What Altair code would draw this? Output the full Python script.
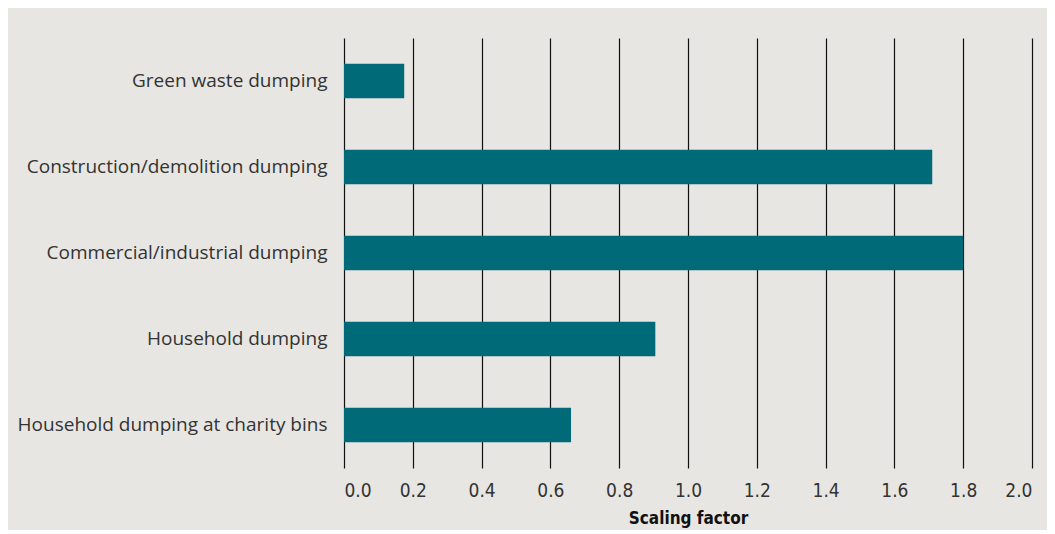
import altair as alt
import pandas as pd

categories = [
    "Green waste dumping",
    "Construction/demolition dumping",
    "Commercial/industrial dumping",
    "Household dumping",
    "Household dumping at charity bins",
]
values = [0.175, 1.71, 1.80, 0.905, 0.66]
x_ticks = [0.0, 0.2, 0.4, 0.6, 0.8, 1.0, 1.2, 1.4, 1.6, 1.8, 2.0]

df = pd.DataFrame({"category": categories, "value": values})

bg = "#e8e6e2"

chart = (
    alt.Chart(df)
    .mark_bar(color="#006a78")
    .encode(
        x=alt.X(
            "value:Q",
            scale=alt.Scale(domain=[0, 2.0], nice=False),
            axis=alt.Axis(
                values=x_ticks,
                format=".1f",
                title="Scaling factor",
                grid=True,
                gridColor="#111111",
                gridWidth=1.2,
                gridOpacity=1,
                domain=False,
                ticks=False,
                labelFont="DejaVu Sans Condensed",
                labelFontSize=19,
                labelColor="#333333",
                labelPadding=13,
                titleFont="DejaVu Sans Condensed",
                titleFontWeight="bold",
                titleFontSize=17,
                titleColor="#111111",
                titlePadding=10,
            ),
        ),
        y=alt.Y(
            "category:N",
            sort=categories,
            scale=alt.Scale(paddingInner=0.6, paddingOuter=0.3),
            axis=alt.Axis(
                title=None,
                domain=False,
                ticks=False,
                grid=False,
                labelFont="Open Sans",
                labelFontSize=19,
                labelColor="#333333",
                labelPadding=17,
                labelLimit=400,
            ),
        ),
    )
    .properties(width=688, height=430)
    .configure(background=bg, autosize=alt.AutoSizeParams(type="none"), padding={"left": 336, "top": 30, "right": 15, "bottom": 62})
    .configure_view(stroke=None, fill=bg)
)

chart.save("out.html", embed_options={"renderer": "svg", "actions": False})
